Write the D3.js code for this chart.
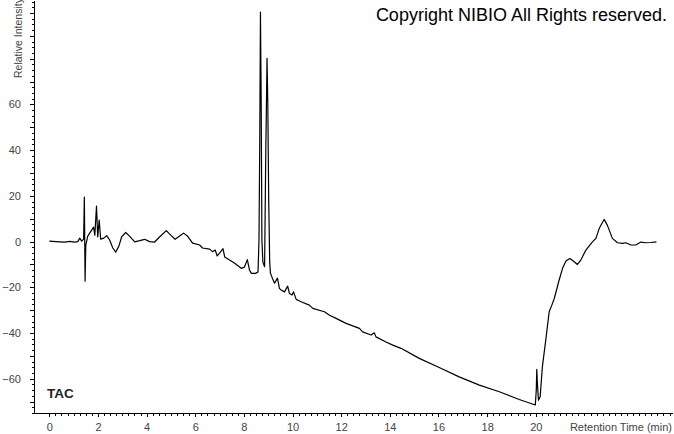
<!DOCTYPE html>
<html>
<head>
<meta charset="utf-8">
<script src="https://cdn.jsdelivr.net/npm/d3@7"></script>
<style>
  body { margin: 0; background: #fff; }
  svg { display: block; font-family: Arial, "Liberation Sans", sans-serif; }
  .axis path, .axis line { stroke: #000; }
  .axis text { fill: #444; font-size: 11px; }
</style>
</head>
<body>
<div id="chart"></div>
<script>
// retention time (min)
const times = [0, 0.43, 0.64, 0.84, 1.04, 1.17, 1.25, 1.33, 1.41, 1.44, 1.47, 1.50, 1.58, 1.66, 1.74, 1.82, 1.87, 1.94, 1.99, 2.05,
  2.11, 2.24, 2.36, 2.48, 2.61, 2.73, 2.86, 2.97, 3.14, 3.30, 3.51, 3.72, 3.92, 4.12, 4.33, 4.53, 4.81, 4.99, 5.17, 5.36,
  5.52, 5.68, 5.89, 6.18, 6.30, 6.59, 6.71, 6.82, 6.90, 7.00, 7.14, 7.21, 7.41, 7.62, 7.89, 8.02, 8.14, 8.23, 8.31, 8.48,
  8.58, 8.62, 8.65, 8.68, 8.71, 8.74, 8.78, 8.85, 8.90, 8.93, 8.95, 8.98, 9.02, 9.06, 9.09, 9.17, 9.26, 9.38, 9.46, 9.53,
  9.67, 9.80, 9.87, 9.98, 10.04, 10.15, 10.35, 10.69, 10.83, 11.31, 11.52, 11.79, 12.20, 12.75, 12.88, 13.23, 13.36, 13.43, 13.84, 14.12,
  14.46, 15.21, 16.03, 16.85, 17.68, 18.50, 19.32, 19.98, 20.02, 20.04, 20.07, 20.11, 20.18, 20.27, 20.41, 20.55, 20.66, 20.76, 20.96, 21.10,
  21.24, 21.40, 21.58, 21.71, 21.85, 22.06, 22.33, 22.47, 22.61, 22.81, 22.94, 23.15, 23.36, 23.56, 23.70, 23.91, 24.11, 24.32, 24.52, 24.73,
  24.96]

// relative intensity
const intensity = [0.2, -0.1, -0.2, 0.1, -0.2, 0, 1.5, 0.2, 1.1, 19.5, -17.3, -1.5, 2.4, 3.7, 5.0, 6.3, 2.8, 15.5, 2.0, 9.4,
  1.1, 1.5, 2.6, 0.7, -2.8, -4.6, -2.0, 2.0, 4.0, 2.4, -0.1, 0.4, 1.0, 0, -0.2, 2.0, 4.8, 2.8, 1.0, 2.4,
  3.7, 2.4, -0.7, -1.5, -2.8, -3.3, -4.4, -3.7, -6.3, -5.0, -3.1, -6.7, -8.1, -9.5, -11.7, -11.2, -7.9, -12.5, -13.9, -13.9,
  -13.3, 0.7, 41.4, 100.4, 61.9, 0.7, -9.0, -11.0, 40.0, 62.8, 80.2, 61.9, 18.2, -9.0, -13.8, -16.0, -18.2, -16.0, -20.5, -21.2,
  -22.0, -19.5, -22.7, -23.4, -22.0, -25.3, -26.3, -27.8, -29.2, -30.7, -32.2, -33.6, -35.8, -38.0, -39.5, -40.9, -39.9, -41.7, -43.9, -45.3,
  -46.7, -51.1, -55.1, -59.2, -62.8, -65.7, -69.1, -71.5, -65.0, -55.9, -62.8, -69.4, -67.9, -54.8, -43.1, -30.7, -27.8, -24.9, -16.8, -11.7,
  -8.5, -7.4, -8.8, -10.0, -8.1, -3.7, -0.1, 1.4, 5.8, 9.7, 7.2, 1.4, -0.5, -0.8, -0.5, -1.5, -1.5, -0.2, -0.5, -0.4,
  -0.1]

const xLabels = [0, 2, 4, 6, 8, 10, 12, 14, 16, 18, 20]
const yLabels = [-60, -40, -20, 0, 20, 40, 60]

const width = 674
const height = 434

const svg = d3.select("#chart")
  .append("svg")
  .attr("width", width)
  .attr("height", height)

// Achsen-Skalen
const x = d3.scaleLinear().domain([-0.63, 25.6]).range([34, 672])
const y = d3.scaleLinear().domain([-75, 105.7]).range([413, 0])

const axisX = 413
const axisY = 34

// Nebenstriche X
svg.append("g")
  .attr("class", "axis")
  .attr("transform", "translate(0," + axisX + ")")
  .call(d3.axisBottom(x).tickValues(d3.range(0, 25.51, 0.25)).tickSize(3).tickFormat("").tickSizeOuter(0))

// Hauptstriche X
svg.append("g")
  .attr("class", "axis")
  .attr("transform", "translate(0," + axisX + ")")
  .call(d3.axisBottom(x).tickValues(xLabels).tickSize(4).tickSizeOuter(0).tickPadding(6))

// Nebenstriche Y
svg.append("g")
  .attr("class", "axis")
  .attr("transform", "translate(" + axisY + ",0)")
  .call(d3.axisLeft(y).tickValues(d3.range(-75, 105.1, 2.5)).tickSize(2).tickFormat("").tickSizeOuter(0))

svg.append("g")
  .attr("class", "axis")
  .attr("transform", "translate(" + axisY + ",0)")
  .call(d3.axisLeft(y).tickValues(d3.range(-70, 101, 10)).tickSize(4).tickFormat("").tickSizeOuter(0))

// Beschriftung Y
svg.append("g")
  .attr("class", "axis")
  .attr("transform", "translate(" + axisY + ",0)")
  .call(d3.axisLeft(y).tickValues(yLabels).tickSize(4).tickSizeOuter(0).tickPadding(9))

svg.selectAll(".axis path.domain").attr("shape-rendering", "crispEdges")
svg.selectAll(".axis line").attr("shape-rendering", "crispEdges")

// Kurve
const pts = times.map((t, i) => ({ t: t, v: intensity[i] }))
svg.append("path")
  .datum(pts)
  .attr("fill", "none")
  .attr("stroke", "#000")
  .attr("stroke-width", 1.2)
  .attr("stroke-linejoin", "round")
  .attr("d", d3.line().x(d => x(d.t)).y(d => y(d.v)))

// Texte
svg.append("text")
  .attr("transform", "translate(22,78) rotate(-90)")
  .style("font-size", "10.5px")
  .style("fill", "#444")
  .text("Relative Intensity")

svg.append("text")
  .attr("x", 672)
  .attr("y", 431)
  .style("font-size", "11px")
  .style("fill", "#444")
  .style("text-anchor", "end")
  .text("Retention Time (min)")

svg.append("text")
  .attr("x", 667)
  .attr("y", 21)
  .style("font-size", "18px")
  .style("fill", "#000")
  .style("text-anchor", "end")
  .text("Copyright NIBIO All Rights reserved.")

svg.append("text")
  .attr("x", 47)
  .attr("y", 398)
  .style("font-size", "13.5px")
  .style("font-weight", "bold")
  .style("fill", "#222")
  .text("TAC")
</script>
</body>
</html>
